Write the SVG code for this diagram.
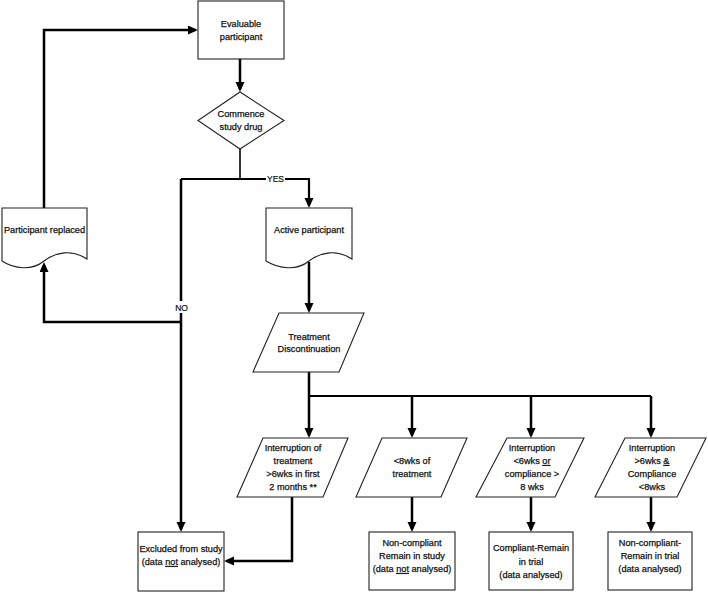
<svg xmlns="http://www.w3.org/2000/svg" width="708" height="593" viewBox="0 0 708 593">
<defs>
<style>
.shape{fill:#fff;stroke:#222;stroke-width:1.1}
.t{font-family:"Liberation Sans",Arial,sans-serif;font-size:9.2px;fill:#111;stroke:#111;stroke-width:0.25;text-anchor:middle}
.lbl{font-family:"Liberation Sans",Arial,sans-serif;font-size:8.5px;fill:#111;stroke:#111;stroke-width:0.2;text-anchor:middle}
.c{fill:none;stroke:#000;stroke-width:2.5}
.ca{fill:none;stroke:#000;stroke-width:2.5;marker-end:url(#ah)}
.u{text-decoration:underline}
</style>
<marker id="ah" markerUnits="userSpaceOnUse" markerWidth="10" markerHeight="10" refX="7" refY="4.5" orient="auto">
<path d="M0,0 L10,4.5 L0,9 Z" fill="#000"/>
</marker>
</defs>
<rect width="708" height="593" fill="#fff"/>

<g id="connectors">
<path class="ca" d="M240,59 V89"/>
<path class="c" style="stroke-width:1.6" d="M240,149 V179"/>
<path class="ca" style="stroke-width:2.2" d="M181,179 H309 V205"/>
<path class="ca" d="M181,179 V529"/>
<path class="ca" d="M181,322 H44 V265"/>
<path class="ca" d="M44,208 V30 H195"/>
<path class="ca" d="M309,262 V310"/>
<path class="c" d="M309,372 V396"/>
<path class="c" style="stroke-width:2.2" d="M309,396 H651"/>
<path class="ca" d="M309,396 V435"/>
<path class="ca" d="M412,396 V435"/>
<path class="ca" d="M531,396 V435"/>
<path class="ca" d="M651,396 V435"/>
<path class="ca" d="M292,497 V561 H227"/>
<path class="ca" d="M412,497 V529"/>
<path class="ca" d="M531,497 V529"/>
<path class="ca" d="M651,497 V529"/>
<rect x="266" y="174" width="19" height="10" fill="#fff"/>
<text class="lbl" x="275.5" y="182">YES</text>
<rect x="174" y="301" width="15" height="12" fill="#fff"/>
<text class="lbl" x="181.5" y="310.5">NO</text>
</g>

<g id="evaluable">
<rect class="shape" x="198" y="1" width="86" height="58"/>
<text class="t" x="241" y="27">Evaluable</text>
<text class="t" x="241" y="40">participant</text>
</g>

<g id="commence">
<polygon class="shape" points="240,92 284,120.5 240,149 198,120.5"/>
<text class="t" x="241" y="117">Commence</text>
<text class="t" x="241" y="130">study drug</text>
</g>

<g id="replaced">
<path class="shape" d="M2,208 H87 V259 C72,249 56,252 44,261 C32,271 14,269 2,261 Z"/>
<text class="t" x="44.5" y="233">Participant replaced</text>
</g>

<g id="active">
<path class="shape" d="M266,208 H352 V259 C337,249 321,252 309,261 C297,271 279,269 266,261 Z"/>
<text class="t" x="309" y="233">Active participant</text>
</g>

<g id="discontinuation">
<polygon class="shape" points="279,313 364,313 339,372 253,372"/>
<text class="t" x="309" y="340">Treatment</text>
<text class="t" x="309" y="352">Discontinuation</text>
</g>

<g id="interruption1">
<polygon class="shape" points="263,438 348,438 323,497 237,497"/>
<text class="t" x="293" y="451">Interruption of</text>
<text class="t" x="293" y="464">treatment</text>
<text class="t" x="293" y="477">&gt;6wks in first</text>
<text class="t" x="293" y="490">2 months **</text>
</g>

<g id="lt8wks">
<polygon class="shape" points="382,438 467,438 441,497 356,497"/>
<text class="t" x="412" y="464">&lt;8wks of</text>
<text class="t" x="412" y="477">treatment</text>
</g>

<g id="interruption2">
<polygon class="shape" points="507,438 584,438 555,497 476,497"/>
<text class="t" x="532" y="451">Interruption</text>
<text class="t" x="532" y="464">&lt;6wks <tspan class="u">or</tspan></text>
<text class="t" x="532" y="477">compliance &gt;</text>
<text class="t" x="532" y="490">8 wks</text>
</g>

<g id="interruption3">
<polygon class="shape" points="625,438 706,438 677,497 595,497"/>
<text class="t" x="652" y="451">Interruption</text>
<text class="t" x="652" y="464">&gt;6wks <tspan class="u">&amp;</tspan></text>
<text class="t" x="652" y="477">Compliance</text>
<text class="t" x="652" y="490">&lt;8wks</text>
</g>

<g id="excluded">
<rect class="shape" x="138" y="532" width="86" height="59"/>
<text class="t" x="181" y="552">Excluded from study</text>
<text class="t" x="181" y="565">(data <tspan class="u">not</tspan> analysed)</text>
</g>

<g id="noncompliant-study">
<rect class="shape" x="369" y="532" width="86" height="58"/>
<text class="t" x="412" y="546">Non-compliant</text>
<text class="t" x="412" y="559">Remain in study</text>
<text class="t" x="412" y="572">(data <tspan class="u">not</tspan> analysed)</text>
</g>

<g id="compliant-trial">
<rect class="shape" x="489" y="532" width="84" height="58"/>
<text class="t" x="531" y="551">Compliant-Remain</text>
<text class="t" x="531" y="565">in trial</text>
<text class="t" x="531" y="578">(data analysed)</text>
</g>

<g id="noncompliant-trial">
<rect class="shape" x="608" y="532" width="84" height="58"/>
<text class="t" x="650" y="546">Non-compliant-</text>
<text class="t" x="650" y="559">Remain in trial</text>
<text class="t" x="650" y="572">(data analysed)</text>
</g>
</svg>
